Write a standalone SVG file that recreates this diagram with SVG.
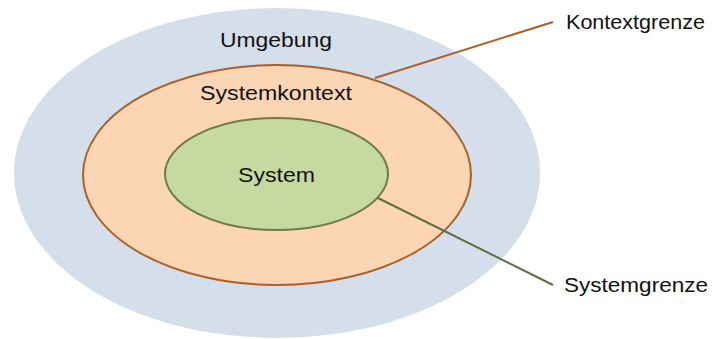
<svg xmlns="http://www.w3.org/2000/svg" width="718" height="339" viewBox="0 0 718 339">
<style>
text{font-family:"Liberation Sans",Arial,sans-serif;font-size:21px;fill:#111}
</style>
<rect width="718" height="339" fill="#fff"/>
<g id="umgebung">
<ellipse cx="277" cy="173" rx="263" ry="165" fill="#D5DFEC"/>
<text x="220" y="46.5" textLength="112" lengthAdjust="spacingAndGlyphs">Umgebung</text>
</g>
<g id="systemkontext">
<ellipse cx="277" cy="175" rx="194" ry="110" fill="#FCD5B5" stroke="#A8622A" stroke-width="2"/>
<text x="200" y="100" textLength="152" lengthAdjust="spacingAndGlyphs">Systemkontext</text>
</g>
<g id="system">
<ellipse cx="276.5" cy="174" rx="111.5" ry="56" fill="#C6D9A0" stroke="#6E7C45" stroke-width="2"/>
<text x="238" y="181.5" textLength="77" lengthAdjust="spacingAndGlyphs">System</text>
</g>
<g id="connectors">
<line x1="375" y1="78" x2="553" y2="22" stroke="#A8622A" stroke-width="2"/>
<line x1="378" y1="198" x2="553" y2="285" stroke="#5F7040" stroke-width="2"/>
</g>
<g id="kontextgrenze">
<text x="566" y="29" textLength="139" lengthAdjust="spacingAndGlyphs">Kontextgrenze</text>
</g>
<g id="systemgrenze">
<text x="564" y="292" textLength="144" lengthAdjust="spacingAndGlyphs">Systemgrenze</text>
</g>
</svg>
